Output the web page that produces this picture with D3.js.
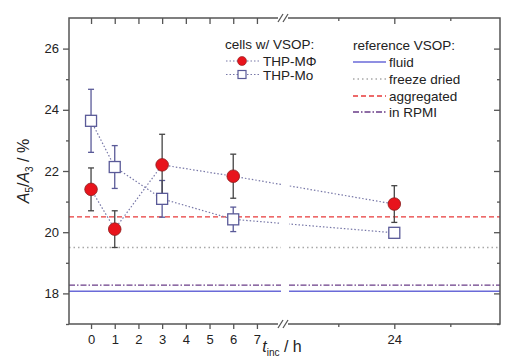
<!DOCTYPE html>
<html>
<head>
<meta charset="utf-8">
<script src="https://cdn.jsdelivr.net/npm/d3@7"></script>
<style>
  body { margin: 0; background: #fff; }
  text { font-family: "Liberation Sans", Arial, sans-serif; fill: #222; }
</style>
</head>
<body>
<svg id="viz" width="507" height="362"></svg>
<script>
// measured values (A5/A3 in %)
var hours = [0, 1, 3, 6, 24];
var mphiVals = [21.4, 20.1, 22.2, 21.83, 20.92];
var mphiErr = [0.7, 0.6, 1.0, 0.72, 0.6];
var moVals = [23.64, 22.13, 21.09, 20.42, 19.98];
var moErr = [1.03, 0.7, 0.6, 0.4, 0.15];

// reference VSOP levels
var refNames = ["fluid", "freeze dried", "aggregated", "in RPMI"];
var refVals = [18.07, 19.5, 20.5, 18.27];
var refColors = ["#6a6ad8", "#a8a8a8", "#e83a3a", "#6a3c88"];
var refDash = [null, "1.5,3", "5,3", "6,2,1.5,2"];

var yTicks = [18, 20, 22, 24, 26];
var yMinor = [17, 19, 21, 23, 25];
var xTicksLeft = [0, 1, 2, 3, 4, 5, 6, 7];
var xTicksRight = [24];
var xMinorRight = [20, 28];

var svg = d3.select("#viz");
var mLeft = 69, mRight = 500, mTop = 18, mBottom = 324;
var breakX = 283, gapL = 281, gapR = 289;

var y = d3.scaleLinear().domain([17, 27]).range([mBottom, mTop]);
var xL = d3.scaleLinear().domain([-0.93, 8.1]).range([mLeft, breakX]);
var xR = d3.scaleLinear().domain([16.05, 31.55]).range([breakX, mRight]);
function x(t) { return t <= 8 ? xL(t) : xR(t); }

var axisColor = "#555";

// reference lines, split at the break
refVals.forEach(function(v, i) {
  [[mLeft, gapL], [gapR, mRight]].forEach(function(seg) {
    svg.append("line")
      .attr("x1", seg[0]).attr("x2", seg[1])
      .attr("y1", y(v)).attr("y2", y(v))
      .attr("stroke", refColors[i])
      .attr("stroke-width", i == 0 ? 1.6 : 1.3)
      .attr("stroke-dasharray", refDash[i]);
  });
});

// dotted connecting lines
var line = d3.line().x(function(d) { return x(d[0]); }).y(function(d) { return y(d[1]); });
[mphiVals, moVals].forEach(function(vals) {
  svg.append("path")
    .datum(hours.map(function(h, i) { return [h, vals[i]]; }))
    .attr("d", line)
    .attr("fill", "none")
    .attr("stroke", "#7878a8")
    .attr("stroke-width", 1.2)
    .attr("stroke-dasharray", "1.5,2");
});

// white gap for the axis break
svg.append("rect")
  .attr("x", gapL).attr("y", mTop + 1)
  .attr("width", gapR - gapL).attr("height", mBottom - mTop - 2)
  .attr("fill", "#fff");

// error bars
function errorBars(vals, errs, color) {
  var g = svg.append("g").attr("stroke", color).attr("stroke-width", 1.3);
  hours.forEach(function(h, i) {
    var cx = x(h), y1 = y(vals[i] + errs[i]), y2 = y(vals[i] - errs[i]);
    g.append("line").attr("x1", cx).attr("x2", cx).attr("y1", y1).attr("y2", y2);
    g.append("line").attr("x1", cx - 3).attr("x2", cx + 3).attr("y1", y1).attr("y2", y1);
    g.append("line").attr("x1", cx - 3).attr("x2", cx + 3).attr("y1", y2).attr("y2", y2);
  });
}
errorBars(moVals, moErr, "#5a5a98");
errorBars(mphiVals, mphiErr, "#444");

// markers
svg.append("g").selectAll("rect")
  .data(hours)
  .enter()
  .append("rect")
  .attr("x", function(d, i) { return x(d) - 5.5; })
  .attr("y", function(d, i) { return y(moVals[i]) - 5.5; })
  .attr("width", 11).attr("height", 11)
  .attr("fill", "#fff")
  .attr("stroke", "#5a5a98")
  .attr("stroke-width", 1.3);

svg.append("g").selectAll("circle")
  .data(hours)
  .enter()
  .append("circle")
  .attr("cx", function(d) { return x(d); })
  .attr("cy", function(d, i) { return y(mphiVals[i]); })
  .attr("r", 6.3)
  .attr("fill", "#e8141c")
  .attr("stroke", "#8a2020")
  .attr("stroke-width", 0.8);

// frame
svg.append("rect")
  .attr("x", mLeft).attr("y", mTop)
  .attr("width", mRight - mLeft).attr("height", mBottom - mTop)
  .attr("fill", "none")
  .attr("stroke", axisColor)
  .attr("stroke-width", 1.5);

// axes
function styleAxis(g) {
  g.select(".domain").remove();
  g.selectAll(".tick line").attr("stroke", axisColor).attr("stroke-width", 1.3);
  g.selectAll(".tick text").attr("font-size", 13).attr("fill", "#333")
    .attr("font-family", "Liberation Sans, Arial, sans-serif");
}

svg.append("g")
  .attr("transform", "translate(" + mLeft + ",0)")
  .call(d3.axisLeft(y).tickValues(yTicks).tickSize(6).tickPadding(4).tickFormat(d3.format("d")))
  .call(styleAxis);
svg.append("g")
  .attr("transform", "translate(" + mLeft + ",0)")
  .call(d3.axisLeft(y).tickValues(yMinor).tickSize(3).tickFormat(""))
  .call(styleAxis);
svg.append("g")
  .attr("transform", "translate(" + mRight + ",0)")
  .call(d3.axisLeft(y).tickValues(yTicks).tickSize(6).tickFormat(""))
  .call(styleAxis);
svg.append("g")
  .attr("transform", "translate(" + mRight + ",0)")
  .call(d3.axisLeft(y).tickValues(yMinor).tickSize(3).tickFormat(""))
  .call(styleAxis);

svg.append("g")
  .attr("transform", "translate(0," + mBottom + ")")
  .call(d3.axisBottom(xL).tickValues(xTicksLeft).tickSize(5).tickPadding(6).tickFormat(d3.format("d")))
  .call(styleAxis);
svg.append("g")
  .attr("transform", "translate(0," + mBottom + ")")
  .call(d3.axisBottom(xR).tickValues(xTicksRight).tickSize(5).tickPadding(6).tickFormat(d3.format("d")))
  .call(styleAxis);
svg.append("g")
  .attr("transform", "translate(0," + mBottom + ")")
  .call(d3.axisBottom(xR).tickValues(xMinorRight).tickSize(3).tickFormat(""))
  .call(styleAxis);
svg.append("g")
  .attr("transform", "translate(0," + mTop + ")")
  .call(d3.axisBottom(xL).tickValues(xTicksLeft).tickSize(6).tickFormat(""))
  .call(styleAxis);
svg.append("g")
  .attr("transform", "translate(0," + mTop + ")")
  .call(d3.axisBottom(xR).tickValues(xTicksRight).tickSize(6).tickFormat(""))
  .call(styleAxis);
svg.append("g")
  .attr("transform", "translate(0," + mTop + ")")
  .call(d3.axisBottom(xR).tickValues(xMinorRight).tickSize(3).tickFormat(""))
  .call(styleAxis);

// break marks "//"
[mTop, mBottom].forEach(function(yy) {
  svg.append("rect").attr("x", breakX - 5).attr("y", yy - 2).attr("width", 10).attr("height", 4).attr("fill", "#fff");
  [-2.5, 2.5].forEach(function(dx) {
    svg.append("line")
      .attr("x1", breakX + dx - 2.5).attr("y1", yy + 4)
      .attr("x2", breakX + dx + 2.5).attr("y2", yy - 4)
      .attr("stroke", axisColor).attr("stroke-width", 1.3);
  });
});

// axis labels
var yl = svg.append("text")
  .attr("transform", "translate(29," + (mTop + mBottom) / 2 + ") rotate(-90)")
  .attr("text-anchor", "middle")
  .attr("font-size", 16);
yl.append("tspan").attr("font-style", "italic").text("A");
yl.append("tspan").attr("font-size", 10).attr("dy", 4).text("5");
yl.append("tspan").attr("dy", -4).text("/");
yl.append("tspan").attr("font-style", "italic").text("A");
yl.append("tspan").attr("font-size", 10).attr("dy", 4).text("3");
yl.append("tspan").attr("dy", -4).text(" / %");

var xl = svg.append("text")
  .attr("x", 282).attr("y", 352)
  .attr("text-anchor", "middle")
  .attr("font-size", 16);
xl.append("tspan").attr("font-style", "italic").text("t");
xl.append("tspan").attr("font-size", 10).attr("dy", 4).text("inc");
xl.append("tspan").attr("dy", -4).text(" / h");

// legend: cells
var fs = 13.5;
svg.append("text").attr("x", 225).attr("y", 49).attr("font-size", fs).text("cells w/ VSOP:");
var legCells = [
  { name: "THP-M\u03A6", y: 61, kind: "circle" },
  { name: "THP-Mo", y: 74.5, kind: "square" }
];
legCells.forEach(function(d) {
  svg.append("line")
    .attr("x1", 226).attr("x2", 259).attr("y1", d.y).attr("y2", d.y)
    .attr("stroke", "#7878a8").attr("stroke-width", 1.2).attr("stroke-dasharray", "1.5,2");
  if (d.kind == "circle") {
    svg.append("circle").attr("cx", 242).attr("cy", d.y).attr("r", 4.5)
      .attr("fill", "#e8141c").attr("stroke", "#8a2020").attr("stroke-width", 0.6);
  } else {
    svg.append("rect").attr("x", 238).attr("y", d.y - 4).attr("width", 8).attr("height", 8)
      .attr("fill", "#fff").attr("stroke", "#5a5a98").attr("stroke-width", 1.2);
  }
  svg.append("text").attr("x", 263).attr("y", d.y + 5).attr("font-size", fs).text(d.name);
});

// legend: reference
svg.append("text").attr("x", 353).attr("y", 50).attr("font-size", fs).text("reference VSOP:");
var legY = [62, 79, 96, 112];
refNames.forEach(function(n, i) {
  svg.append("line")
    .attr("x1", 353).attr("x2", 386).attr("y1", legY[i]).attr("y2", legY[i])
    .attr("stroke", refColors[i])
    .attr("stroke-width", i == 0 ? 1.6 : 1.3)
    .attr("stroke-dasharray", refDash[i]);
  svg.append("text").attr("x", 389).attr("y", legY[i] + 5).attr("font-size", fs).text(n);
});
</script>
</body>
</html>
